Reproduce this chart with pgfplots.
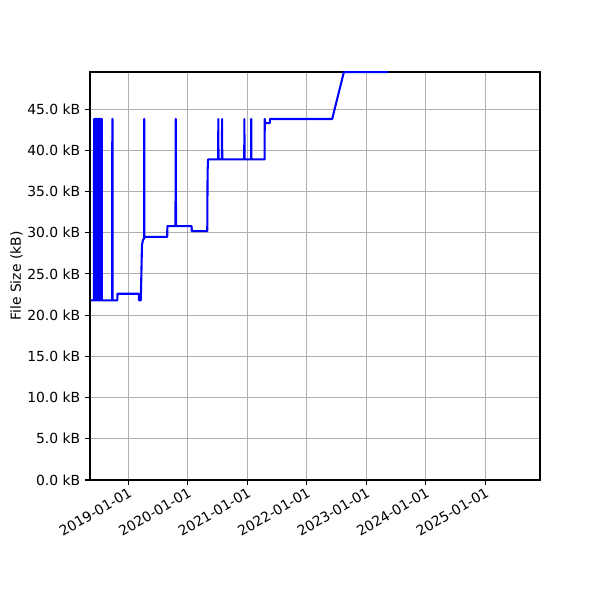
\documentclass[border=0pt]{standalone}
\usepackage{fontspec}
\setmainfont{DejaVu Sans}
\usepackage{pgfplots}
\pgfplotsset{compat=1.18}
\definecolor{gridgray}{HTML}{B0B0B0}
\begin{document}
\fontsize{10}{12}\selectfont
\begin{tikzpicture}
\begin{axis}[
  name=ax,
  scale only axis,
  width=324pt, height=293.76pt,
  xmin=-235, xmax=2528,
  ymin=0, ymax=49.5,
  axis line style={line width=0.8pt},
  tick align=outside,
  xtick pos=bottom, ytick pos=left,
  major tick length=3.5pt,
  tick style={line width=0.8pt, black},
  grid=major,
  grid style={gridgray, line width=0.8pt},
  xtick={0,365,731,1096,1461,1826,2192},
  xticklabels={2019-01-01,2020-01-01,2021-01-01,2022-01-01,2023-01-01,2024-01-01,2025-01-01},
  xticklabel style={rotate=30, anchor=north east, inner sep=1pt, font=\fontsize{10}{12}\selectfont},
  ytick={0,5,10,15,20,25,30,35,40,45},
  yticklabels={0.0 kB,5.0 kB,10.0 kB,15.0 kB,20.0 kB,25.0 kB,30.0 kB,35.0 kB,40.0 kB,45.0 kB},
  yticklabel style={font=\fontsize{10}{12}\selectfont},
  ylabel={File Size (kB)},
  ylabel style={font=\fontsize{10}{12}\selectfont, yshift=-3.5pt},
]
\addplot[blue, line width=1.5pt, line join=round] coordinates {
(-229,21.8) (-211,21.8) (-210,43.8) (-208,43.8) (-207,21.8) (-205,21.8) (-204,43.8) (-202,43.8) (-201,21.8)
(-199,21.8) (-198.5,43.8) (-198,43.8) (-197.5,21.8) (-196,21.8)
(-195,43.8) (-193,43.8) (-192,21.8) (-190,21.8) (-189,43.8) (-187,43.8) (-186,21.8) (-184,21.8)
(-183,43.8) (-181,43.8) (-180,21.8) (-178,21.8) (-177,43.8) (-175,43.8) (-174,21.8) (-172,21.8)
(-171,43.8) (-169,43.8) (-168,21.8) (-166,21.8) (-165,43.8) (-163,43.8) (-162,21.8)
(-99,21.8) (-98,43.8) (-97,43.8) (-96,21.8)
(-67,21.8) (-66,22.6) (65,22.6) (66,21.8) (77,21.8) (81,25.5) (84,28.5) (90,29.1) (97,29.3) (98,43.8) (99,29.5)
(239,29.5) (240,30.8) (290,30.8) (291,43.8) (292,43.8) (293,30.8) (389,30.8) (390,30.2) (485,30.2) (487,37.4) (490,38.9)
(552,38.9) (553,43.8) (554,38.9) (575,38.9) (576,43.8) (577,38.9) (712,38.9) (713,43.8) (714,38.9)
(754,38.9) (755,43.8) (756,38.9) (837,38.9) (838,43.8) (841,43.3) (869,43.3) (870,43.8)
(1252,43.8) (1324,49.5) (1595,49.5)
};
\end{axis}
\path[use as bounding box] ([shift={(-64.8pt,-86.4pt)}]ax.south west) rectangle ([shift={(43.2pt,51.84pt)}]ax.north east);
\end{tikzpicture}
\end{document}
